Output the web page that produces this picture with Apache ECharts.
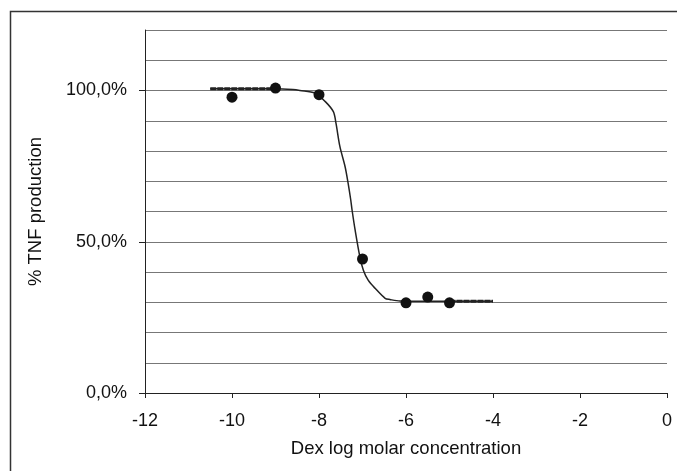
<!DOCTYPE html>
<html>
<head>
<meta charset="utf-8">
<script src="https://cdn.jsdelivr.net/npm/echarts@6/dist/echarts.min.js"></script>
<style>
html,body{margin:0;padding:0;background:#fff;}
#c{width:677px;height:471px;}
</style>
</head>
<body>
<div id="c"></div>
<script>
// measured points (Dex log molar concentration, % TNF production)
var pointX = [-10, -9, -8, -7, -6, -5.5, -5];
var pointY = [97.8, 100.8, 98.6, 44.3, 29.8, 31.7, 29.8];

// fitted curve
var curveX = [-10.5, -9.0, -8.6, -8.44, -8.09, -7.86, -7.67, -7.61, -7.52, -7.40, -7.33, -7.27, -7.24, -7.17, -7.06, -6.98, -6.87, -6.71, -6.48, -6.37, -6.14, -5.0, -4.0];
var curveY = [100.6, 100.6, 100.3, 100.0, 99.1, 96.4, 93.0, 89.2, 81.5, 74.8, 69.3, 63.8, 60.5, 53.9, 45.0, 40.6, 37.3, 34.6, 31.3, 30.9, 30.4, 30.3, 30.3];

// thick dashed ends of the curve
var dashLeftX = [-10.5, -9.0];
var dashLeftY = [100.6, 100.6];
var dashRightX = [-5.0, -4.0];
var dashRightY = [30.3, 30.3];

var xTicks = [-12, 0, 2];   // min, max, interval
var yGrid = [0, 120, 10];
var yLabels = [0, 50, 100];

function pairs(xs, ys){ return xs.map(function(x,i){return [x, ys[i]];}); }

var font = 'Liberation Sans, Arial, sans-serif';
var chart = echarts.init(document.getElementById('c'));
chart.setOption({
  animation: false,
  backgroundColor: '#fff',
  graphic: [{
    type: 'rect', left: 8, top: 9, shape: {width: 700, height: 500},
    style: {fill: 'none', stroke: '#333', lineWidth: 1.5}, silent: true
  }],
  grid: {left: 145, right: 10, top: 30, bottom: 78, containLabel: false},
  xAxis: {
    type: 'value', min: xTicks[0], max: xTicks[1], interval: xTicks[2],
    name: 'Dex log molar concentration', nameLocation: 'middle', nameGap: 46,
    nameTextStyle: {fontFamily: font, fontSize: 18.5, color: '#111'},
    axisLine: {show: true, onZero: false, lineStyle: {color: '#222', width: 1}},
    axisTick: {show: true, inside: false, length: 5, lineStyle: {color: '#222'}},
    axisLabel: {fontFamily: font, fontSize: 18, color: '#111', margin: 19},
    splitLine: {show: false}
  },
  yAxis: [{
    type: 'value', min: yGrid[0], max: yGrid[1], interval: yGrid[2], position: 'left',
    name: '% TNF production', nameLocation: 'middle', nameGap: 100,
    nameTextStyle: {fontFamily: font, fontSize: 18.5, color: '#111'},
    axisLine: {show: true, onZero: false, lineStyle: {color: '#222', width: 1}},
    axisTick: {show: false},
    axisLabel: {show: false},
    splitLine: {show: true, lineStyle: {color: '#777', width: 1}}
  }, {
    type: 'value', min: yGrid[0], max: yGrid[1], position: 'left',
    axisLine: {show: false, onZero: false},
    axisTick: {show: true, inside: false, length: 6, customValues: yLabels, lineStyle: {color: '#222'}},
    axisLabel: {
      fontFamily: font, fontSize: 18, color: '#111', margin: 18, customValues: yLabels,
      formatter: function(v){ return v.toFixed(1).replace('.', ',') + '%'; }
    },
    splitLine: {show: false}
  }],
  series: [{
    type: 'line', data: pairs(curveX, curveY), showSymbol: false, smooth: 0.3,
    lineStyle: {color: '#222', width: 1.5}, z: 3
  }, {
    type: 'line', data: pairs(dashLeftX, dashLeftY), showSymbol: false,
    lineStyle: {color: '#222', width: 3, type: [6, 1]}, z: 3
  }, {
    type: 'line', data: pairs(dashRightX, dashRightY), showSymbol: false,
    lineStyle: {color: '#222', width: 3, type: [6, 1]}, z: 3
  }, {
    type: 'scatter', data: pairs(pointX, pointY), symbol: 'circle', symbolSize: 11,
    itemStyle: {color: '#111', opacity: 1}, z: 4
  }]
});
</script>
</body>
</html>
